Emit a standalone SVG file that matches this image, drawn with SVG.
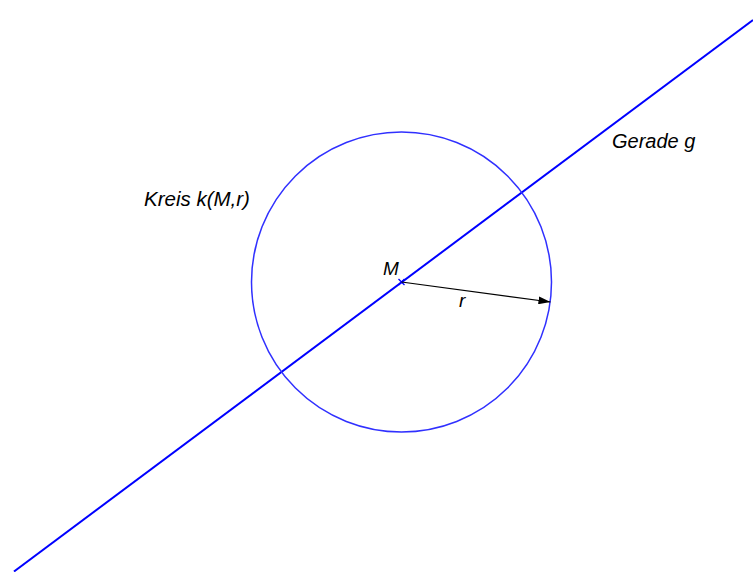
<svg xmlns="http://www.w3.org/2000/svg" width="753" height="572" viewBox="0 0 753 572">
<style>
.lbl{font-family:"Liberation Sans",Arial,sans-serif;font-style:italic;fill:#000}
</style>
<defs>
<marker id="ah" viewBox="0 0 12 8" refX="12" refY="4" markerWidth="12" markerHeight="8" markerUnits="userSpaceOnUse" orient="auto">
<path d="M0,0 L12,4 L0,8 z" fill="#000"/>
</marker>
</defs>
<rect width="753" height="572" fill="#fff"/>
<g id="gerade">
<line x1="14" y1="571.5" x2="753" y2="20" stroke="#0000ff" stroke-width="2"/>
<text class="lbl" x="612" y="148" font-size="20">Gerade g</text>
</g>
<g id="kreis">
<circle cx="401.5" cy="282" r="150" fill="none" stroke="#3030ff" stroke-width="1.5"/>
<text class="lbl" x="144" y="206" font-size="20.5">Kreis k(M,r)</text>
</g>
<g id="M">
<path d="M398.5,279 L404.5,285 M398.5,285 L404.5,279" stroke="#0000ff" stroke-width="1.3"/>
<text class="lbl" x="383" y="275" font-size="19">M</text>
</g>
<g id="connectors">
<line x1="401.5" y1="282" x2="550.5" y2="302" stroke="#000" stroke-width="1.2" marker-end="url(#ah)"/>
<text class="lbl" x="459" y="306.5" font-size="19">r</text>
</g>
</svg>
